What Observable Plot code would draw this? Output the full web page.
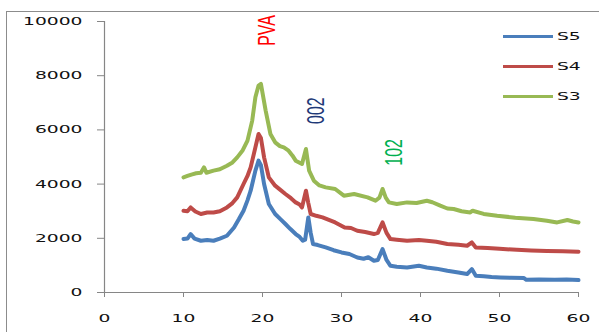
<!DOCTYPE html>
<html>
<head>
<meta charset="utf-8">
<script src="https://cdn.jsdelivr.net/npm/d3@7"></script>
<script src="https://cdn.jsdelivr.net/npm/@observablehq/plot@0.6"></script>
<style>
  html, body { margin: 0; padding: 0; background: #fff; }
  #wrap { position: relative; width: 602px; height: 332px; overflow: hidden; }
  #frame { position: absolute; left: 6px; top: 11px; width: 592px; height: 340px;
           border-left: 1.5px solid #8c8c8c; border-top: 1.5px solid #8c8c8c; }
  #wrap svg { position: absolute; left: 0; top: 0; display: block; }
  svg g[aria-label="x-axis tick"], svg g[aria-label="y-axis tick"] { stroke: #868686; }
  .legline { position: absolute; height: 3px; width: 50px; left: 503px; }
  .legtext { position: absolute; left: 557px; font: 11px "DejaVu Sans", sans-serif; color: #111;
             transform: scaleX(1.7); transform-origin: left center; line-height: 12px; }
</style>
</head>
<body>
<div id="wrap"><div id="frame"></div></div>
<script>
// ---- data ----
const seriesNames = ["S5", "S4", "S3"];
const seriesColors = ["#4a7ebb", "#be4b48", "#98b954"];

const s5x = [10, 10.5, 10.9, 11.4, 12.2, 13, 13.8, 14.6, 15.5, 16.4, 17, 17.6, 18.1, 18.5, 19.1, 19.5, 19.8, 20.2, 20.8, 21.6, 22.3, 22.9, 23.5, 24.2, 24.7, 25.1, 25.4, 25.8, 26.1, 26.4, 27, 28, 29, 30, 31, 32, 32.8, 33.4, 34.1, 34.6, 35.2, 35.7, 36.2, 37, 38.3, 39.8, 40.8, 42, 43.4, 44.8, 45.9, 46.5, 47, 48, 49, 50.1, 51.5, 53.1, 53.4, 55, 57, 58.5, 60];
const s5y = [1972, 1990, 2157, 1990, 1910, 1940, 1910, 1990, 2094, 2401, 2700, 3018, 3400, 3757, 4496, 4865, 4700, 4004, 3266, 2896, 2700, 2527, 2350, 2157, 2050, 1910, 1950, 2771, 2200, 1788, 1750, 1662, 1560, 1478, 1420, 1293, 1245, 1300, 1171, 1200, 1603, 1200, 986, 950, 924, 986, 924, 880, 802, 740, 680, 864, 617, 600, 570, 554, 540, 532, 469, 480, 470, 480, 460];

const s4x = [10, 10.5, 10.9, 11.5, 12.2, 13, 13.8, 14.6, 15.5, 16.2, 16.8, 17.6, 18.1, 18.5, 19.1, 19.5, 19.8, 20.2, 20.8, 21.6, 22.3, 22.9, 23.6, 24.2, 24.7, 25.0, 25.5, 25.8, 26.1, 26.8, 27.6, 28.4, 29.2, 30.4, 31.2, 32, 33, 34.1, 34.6, 35.2, 35.7, 36.2, 37, 38.3, 39.8, 40.8, 42, 43.4, 44.8, 45.9, 46.5, 47, 48.5, 50, 52.2, 54, 56, 58, 60];
const s4y = [3018, 3000, 3140, 2990, 2896, 2950, 2955, 3000, 3140, 3300, 3509, 4004, 4300, 4618, 5356, 5851, 5700, 4987, 4248, 3942, 3780, 3635, 3480, 3325, 3250, 3140, 3757, 3300, 2896, 2830, 2771, 2680, 2586, 2401, 2380, 2279, 2230, 2157, 2200, 2586, 2200, 1972, 1950, 1910, 1936, 1910, 1870, 1788, 1760, 1725, 1847, 1662, 1640, 1610, 1577, 1550, 1530, 1520, 1503];

const s3x = [10, 10.5, 11, 11.6, 12.2, 12.6, 12.9, 13.8, 14.6, 15.5, 16.2, 16.8, 17.5, 18.1, 18.7, 19.1, 19.5, 19.8, 20.4, 21.0, 21.6, 22.2, 22.7, 23.3, 23.8, 24.2, 25.0, 25.5, 25.9, 26.5, 27.2, 28.0, 29.2, 30.3, 31.6, 33.3, 34.3, 34.8, 35.2, 35.6, 36.0, 37.0, 38.3, 39.5, 40.8, 41.5, 42.5, 43.4, 44.2, 45.2, 46.3, 46.6, 48, 49.7, 52, 54.3, 56, 57.3, 58.6, 59.3, 60];
const s3y = [4248, 4300, 4350, 4400, 4420, 4618, 4420, 4496, 4550, 4680, 4800, 4987, 5250, 5604, 6343, 7203, 7636, 7698, 6712, 5851, 5541, 5400, 5356, 5234, 5050, 4865, 4743, 5297, 4496, 4126, 3950, 3879, 3820, 3572, 3635, 3509, 3387, 3500, 3820, 3500, 3325, 3266, 3325, 3300, 3387, 3330, 3203, 3100, 3081, 3000, 2955, 3018, 2900, 2833, 2760, 2711, 2650, 2586, 2674, 2620, 2586];

const xTicks = [0, 10, 20, 30, 40, 50, 60];
const yTicks = [0, 2000, 4000, 6000, 8000, 10000];

const annLabels = ["PVA", "002", "102"];
const annX = [20.6, 26.8, 36.7];
const annY = [9670, 6710, 5170];
const annColors = ["#ff0000", "#1f3a78", "#00b050"];

// ---- build ----
const toRows = (xs, ys) => xs.map((x, i) => ({x, y: ys[i]}));
const seriesRows = [toRows(s5x, s5y), toRows(s4x, s4y), toRows(s3x, s3y)];
const annRows = annLabels.map((t, i) => ({t, x: annX[i], y: annY[i], c: annColors[i]}));

const lineMarks = [2, 1, 0].map(i =>
  Plot.line(seriesRows[i], {x: "x", y: "y", stroke: seriesColors[i], strokeWidth: 4,
    strokeLinejoin: "round", strokeLinecap: "round", curve: "linear"}));

const chart = Plot.plot({
  width: 602, height: 332,
  marginLeft: 104, marginRight: 24, marginTop: 21, marginBottom: 40,
  style: {fontFamily: "'DejaVu Sans', sans-serif", fontSize: "11px", color: "#111", background: "transparent", overflow: "visible"},
  x: {domain: [0, 60], ticks: xTicks, tickSize: 5, tickPadding: 17, tickFormat: d => String(d), label: null},
  y: {domain: [0, 10000], ticks: yTicks, tickSize: 7, tickPadding: 15, tickFormat: d => String(d), label: null},
  marks: [
    Plot.ruleX([0], {stroke: "#868686", strokeWidth: 1.2}),
    Plot.ruleY([0], {stroke: "#868686", strokeWidth: 1.2}),
    ...lineMarks,
    Plot.text(annRows, {x: "x", y: "y", text: "t", fill: "c", rotate: -90, fontSize: 16,
      fontFamily: "'Liberation Sans', Arial, sans-serif", className: "ann"})
  ]
});

document.getElementById("wrap").appendChild(chart);

// stretch tick labels horizontally like the reference
d3.select(chart).selectAll('g[aria-label="y-axis tick label"] text, g[aria-label="x-axis tick label"] text')
  .each(function () {
    const t = this.getAttribute("transform") || "";
    this.setAttribute("transform", t + " scale(1.7,1)");
  });
d3.select(chart).selectAll(".ann text").each(function () {
  const t = this.getAttribute("transform") || "";
  this.setAttribute("transform", t.replace("rotate(", "scale(1.5,1) rotate("));
});

// legend
const wrap = document.getElementById("wrap");
const legY = [36.7, 66.7, 96.7];
seriesNames.forEach((name, i) => {
  const ln = document.createElement("div");
  ln.className = "legline";
  ln.style.top = (legY[i] - 1.5) + "px";
  ln.style.background = seriesColors[i];
  wrap.appendChild(ln);
  const tx = document.createElement("div");
  tx.className = "legtext";
  tx.style.top = (legY[i] - 6) + "px";
  tx.textContent = name;
  wrap.appendChild(tx);
});
</script>
</body>
</html>
